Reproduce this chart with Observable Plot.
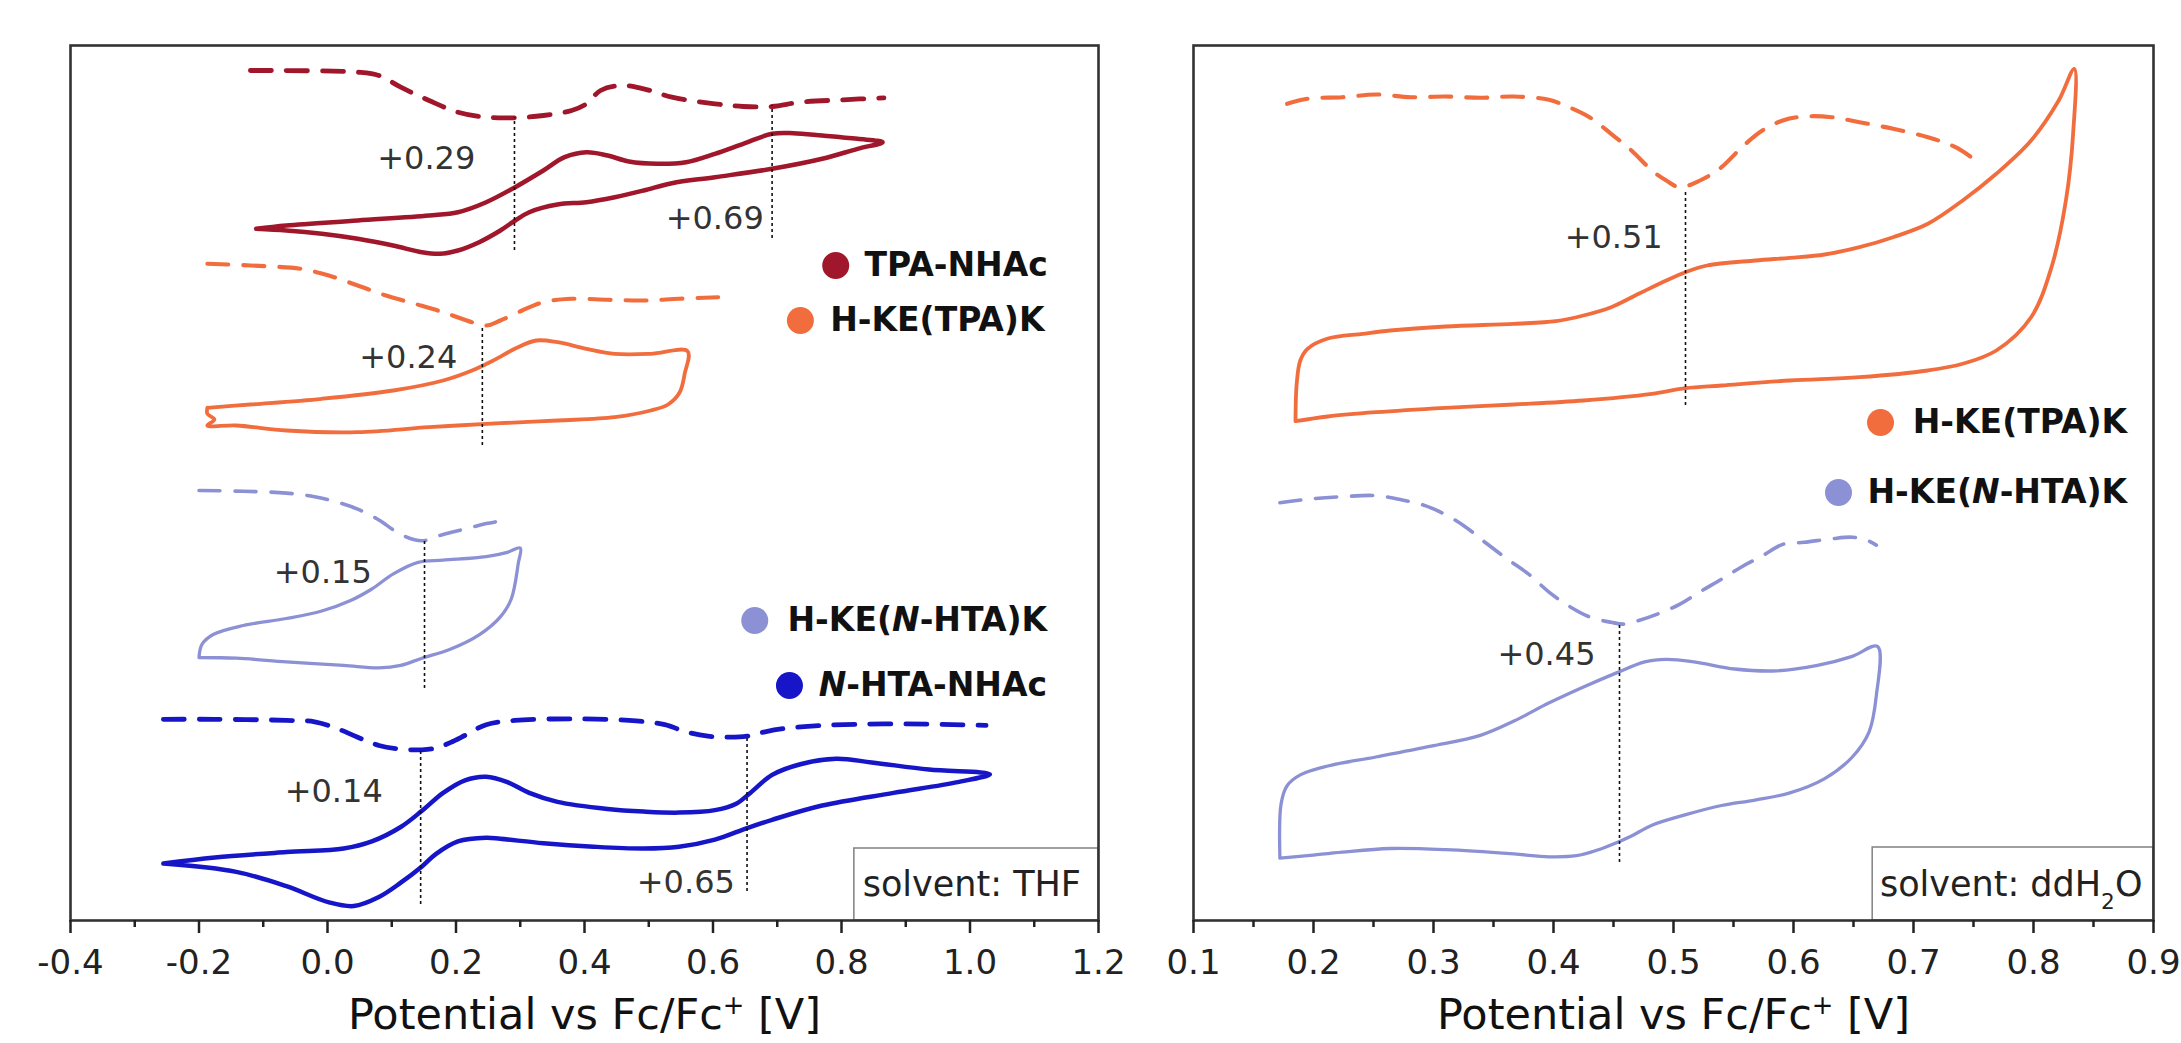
<!DOCTYPE html>
<html>
<head>
<meta charset="utf-8">
<script src="https://cdn.jsdelivr.net/npm/d3@7"></script>
<script src="https://cdn.jsdelivr.net/npm/@observablehq/plot@0.6"></script>
<style>
  html, body { margin: 0; padding: 0; background: #fff; }
  #wrap { display: flex; width: 2181px; height: 1043px; }
</style>
</head>
<body>
<div id="wrap"></div>
<script>
// ---------------- DATA (potential V, current in arbitrary offset units) ----------------
const colors = {
  tpaNHAc: "#a0162b",
  keTPA: "#f26d3d",
  keNHTA: "#8c90d4",
  nhtaNHAc: "#1616c8"
};

// Left panel (THF)
const tpaNHAcDPV = [[-0.12,84.8],[0.047,84.63],[0.08,84.3],[0.114,83.13],[0.158,81.8],[0.203,80.63],[0.247,80.13],[0.291,80.07],[0.336,80.3],[0.38,80.8],[0.403,81.47],[0.425,82.8],[0.458,83.3],[0.492,82.97],[0.536,82.13],[0.603,81.47],[0.647,81.2],[0.692,81.2],[0.736,81.63],[0.803,81.87],[0.866,82.07]];
const tpaNHAcCV = [[-0.111,68.97],[-0.064,69.3],[0.047,69.8],[0.158,70.3],[0.203,70.63],[0.247,71.63],[0.292,73.13],[0.336,74.8],[0.369,76.13],[0.403,76.63],[0.436,76.3],[0.469,75.7],[0.514,75.47],[0.558,75.63],[0.603,76.47],[0.647,77.47],[0.692,78.47],[0.725,78.53],[0.770,78.3],[0.825,77.97],[0.864,77.63],
  [0.825,76.97],[0.770,75.97],[0.692,74.97],[0.603,74.13],[0.536,73.53],[0.492,72.8],[0.447,72.13],[0.403,71.63],[0.358,71.4],[0.314,70.63],[0.292,69.8],[0.269,68.8],[0.236,67.63],[0.203,66.8],[0.175,66.47],[0.147,66.63],[0.102,67.3],[0.047,67.97],[-0.009,68.47],[-0.064,68.8],[-0.111,68.97]];

const keTPA_DPV_THF = [[-0.187,65.47],[-0.12,65.3],[-0.042,64.97],[0.002,64.3],[0.047,63.3],[0.091,62.3],[0.136,61.47],[0.18,60.63],[0.225,59.63],[0.247,59.3],[0.269,59.8],[0.303,60.8],[0.336,61.63],[0.38,61.97],[0.436,61.87],[0.492,61.8],[0.547,61.97],[0.608,62.13]];
const keTPA_CV_THF = [[-0.187,51.07],[-0.12,51.4],[-0.009,51.97],[0.1025,52.8],[0.18,53.8],[0.225,54.8],[0.258,55.8],[0.2915,56.97],[0.325,57.8],[0.358,57.63],[0.403,56.97],[0.447,56.47],[0.503,56.47],[0.5605,56.73],
  [0.556,54.5],[0.548,52.6],[0.53,51.4],[0.503,50.8],[0.447,50.13],[0.358,49.8],[0.269,49.53],[0.158,49.13],[0.047,48.63],[-0.064,48.8],[-0.142,49.3],[-0.187,49.3],[-0.176,49.9],[-0.187,50.47],[-0.187,51.07]];

const keNHTA_DPV_THF = [[-0.2,42.8],[-0.131,42.72],[-0.064,42.54],[-0.02,42.18],[0.014,41.65],[0.047,40.93],[0.08,39.85],[0.114,38.41],[0.147,37.77],[0.18,38.41],[0.214,38.95],[0.247,39.49],[0.28,39.85]];
const keNHTA_CV_THF = [[-0.2,26.1],[-0.1955,27.4],[-0.178,28.4],[-0.131,29.3],[-0.064,30.0],[-0.009,30.75],[0.036,31.8],[0.069,32.95],[0.1025,34.46],[0.141,35.61],[0.18,35.83],[0.247,36.19],[0.28,36.62],[0.3,37.05],
  [0.297,35.54],[0.286,31.95],[0.269,30.16],[0.236,28.36],[0.191,26.92],[0.147,26.03],[0.114,25.31],[0.08,25.06],[0.025,25.31],[-0.064,25.67],[-0.142,26.03],[-0.2,26.1]];

const nhtaNHAcDPV = [[-0.2555,19.92],[-0.1754,19.92],[-0.064,19.81],[-0.02,19.67],[0.014,19.02],[0.047,18.13],[0.08,17.3],[0.114,16.94],[0.147,16.87],[0.169,17.05],[0.191,17.59],[0.214,18.31],[0.247,19.38],[0.2915,19.81],[0.38,19.96],[0.469,19.81],[0.525,19.38],[0.558,18.67],[0.592,18.23],[0.625,18.13],[0.653,18.23],[0.681,18.67],[0.714,19.02],[0.77,19.31],[0.881,19.46],[1.025,19.31]];
const nhtaNHAcCV = [[-0.2555,5.49],[-0.1754,6.1],[-0.064,6.64],[0.025,7.0],[0.069,7.71],[0.114,9.15],[0.147,10.77],[0.18,12.56],[0.214,13.82],[0.247,14.18],[0.28,13.64],[0.314,12.56],[0.358,11.66],[0.436,10.95],[0.492,10.69],[0.547,10.59],[0.603,10.84],[0.636,11.48],[0.658,12.56],[0.692,14.36],[0.736,15.43],[0.792,15.97],[0.847,15.61],[0.936,14.89],[1.031,14.43],
  [0.981,13.64],[0.881,12.56],[0.77,11.3],[0.692,9.87],[0.653,9.04],[0.603,7.89],[0.547,7.18],[0.492,7.0],[0.414,7.18],[0.336,7.53],[0.269,7.97],[0.247,8.07],[0.203,7.71],[0.169,6.46],[0.147,5.2],[0.114,3.58],[0.08,2.15],[0.041,1.25],[0.0025,1.61],[-0.064,3.23],[-0.142,4.66],[-0.2555,5.49]];

// Right panel (ddH2O)
const keTPA_DPV_H2O = [[0.178,81.47],[0.195,81.97],[0.224,82.13],[0.252,82.4],[0.281,82.13],[0.31,82.2],[0.339,82.07],[0.367,82.2],[0.396,81.87],[0.413,81.13],[0.43,80.13],[0.448,78.47],[0.465,76.8],[0.482,74.8],[0.494,73.8],[0.505,73.13],[0.522,73.8],[0.54,75.13],[0.557,77.13],[0.574,78.8],[0.591,79.8],[0.609,80.2],[0.632,80.13],[0.655,79.63],[0.683,78.97],[0.712,78.13],[0.735,77.13],[0.752,75.8]];
const keTPA_CV_H2O = [[0.185,49.73],[0.186,53.47],[0.189,55.8],[0.195,56.97],[0.212,58.0],[0.241,58.47],[0.264,58.8],[0.31,59.2],[0.367,59.47],[0.402,59.73],[0.425,60.3],[0.448,61.13],[0.471,62.47],[0.494,63.8],[0.51,64.63],[0.528,65.3],[0.568,65.8],[0.597,66.07],[0.626,66.4],[0.655,67.13],[0.683,68.13],[0.712,69.47],[0.741,71.8],[0.769,74.47],[0.798,77.8],[0.821,81.8],[0.834,84.97],
  [0.833,78.47],[0.827,71.8],[0.815,65.13],[0.798,60.13],[0.769,56.8],[0.741,55.47],[0.712,54.8],[0.655,54.13],[0.597,53.8],[0.54,53.3],[0.51,53.03],[0.482,52.47],[0.425,51.8],[0.367,51.4],[0.31,51.07],[0.252,50.63],[0.212,50.2],[0.185,49.73]];

const keNHTA_DPV_H2O = [[0.172,41.57],[0.195,41.93],[0.224,42.18],[0.252,42.29],[0.275,41.83],[0.293,41.29],[0.31,40.39],[0.327,39.13],[0.344,37.52],[0.362,35.9],[0.379,34.46],[0.396,32.67],[0.413,31.23],[0.43,30.16],[0.448,29.62],[0.459,29.44],[0.471,29.8],[0.488,30.51],[0.505,31.41],[0.522,32.67],[0.54,33.93],[0.557,35.18],[0.574,36.26],[0.591,37.41],[0.609,37.62],[0.632,37.98],[0.649,38.13],[0.66,37.88],[0.669,37.34]];
const keNHTA_CV_H2O = [[0.172,6.1],[0.173,11.48],[0.178,13.28],[0.189,14.36],[0.212,15.25],[0.252,16.15],[0.298,17.23],[0.339,18.31],[0.367,19.74],[0.396,21.54],[0.425,23.15],[0.453,24.59],[0.476,25.67],[0.494,25.92],[0.517,25.67],[0.551,24.95],[0.586,24.77],[0.62,25.31],[0.649,26.21],[0.67,27.21],
  [0.669,22.26],[0.663,18.67],[0.649,16.15],[0.626,13.99],[0.597,12.56],[0.568,11.84],[0.54,11.3],[0.511,10.41],[0.482,9.33],[0.465,8.25],[0.455,7.71],[0.436,6.82],[0.419,6.28],[0.396,6.17],[0.367,6.46],[0.31,6.89],[0.264,7.0],[0.224,6.64],[0.195,6.28],[0.172,6.03]];

// Peak potentials (dotted markers) with their vertical extent
const peaksTHF = [
  {E: 0.291, lo: 66.8, hi: 80.1, label: "+0.29", lx: 0.230, ly: 76.0},
  {E: 0.692, lo: 68.0, hi: 81.3, label: "+0.69", lx: 0.679, ly: 70.0},
  {E: 0.241, lo: 47.3, hi: 59.3, label: "+0.24", lx: 0.202, ly: 56.1},
  {E: 0.151, lo: 23.0, hi: 37.8, label: "+0.15", lx: 0.069, ly: 34.6},
  {E: 0.145, lo: 1.4, hi: 16.9, label: "+0.14", lx: 0.086, ly: 12.7},
  {E: 0.653, lo: 2.7, hi: 18.1, label: "+0.65", lx: 0.634, ly: 3.6}
];
const peaksH2O = [
  {E: 0.510, lo: 51.3, hi: 72.8, label: "+0.51", lx: 0.491, ly: 68.1},
  {E: 0.455, lo: 5.6, hi: 29.4, label: "+0.45", lx: 0.435, ly: 26.4}
];

const legendTHF = [
  {name: "TPA-NHAc", key: "tpaNHAc", cx: 0.791, tx: 1.121, y: 65.3},
  {name: "H-KE(TPA)K", key: "keTPA", cx: 0.736, tx: 1.116, y: 59.8},
  {name: "H-KE(*N*-HTA)K", key: "keNHTA", cx: 0.665, tx: 1.120, y: 29.8},
  {name: "*N*-HTA-NHAc", key: "nhtaNHAc", cx: 0.719, tx: 1.120, y: 23.3}
];
const legendH2O = [
  {name: "H-KE(TPA)K", key: "keTPA", cx: 0.6725, tx: 0.878, y: 49.6},
  {name: "H-KE(*N*-HTA)K", key: "keNHTA", cx: 0.6375, tx: 0.878, y: 42.6}
];

const ticksTHF = [-0.4, -0.2, 0.0, 0.2, 0.4, 0.6, 0.8, 1.0, 1.2];
const minorTHF = [-0.3, -0.1, 0.1, 0.3, 0.5, 0.7, 0.9, 1.1];
const ticksH2O = [0.1, 0.2, 0.3, 0.4, 0.5, 0.6, 0.7, 0.8, 0.9];
const minorH2O = [0.15, 0.25, 0.35, 0.45, 0.55, 0.65, 0.75, 0.85];

const xTitle = "Potential vs Fc/Fc^{+} [V]";

// ---------------- RENDERING ----------------
const FONT = "'DejaVu Sans', 'Liberation Sans', Arial, sans-serif";
const widths = {tpaNHAc: 4.5, keTPA: 3.8, keNHTA: 3.3, nhtaNHAc: 4.5};

function richify(svg) {
  d3.select(svg).selectAll("text").each(function () {
    const s = this.textContent;
    if (!/[*^_]/.test(s)) return;
    const re = /\*([^*]+)\*|\^\{([^}]*)\}|_\{([^}]*)\}|([^*^_]+)/g;
    const parts = [];
    let m;
    while ((m = re.exec(s))) parts.push(m);
    const sel = d3.select(this);
    sel.text(null);
    for (const p of parts) {
      if (p[1] != null) sel.append("tspan").attr("font-style", "italic").text(p[1]);
      else if (p[2] != null) sel.append("tspan").attr("baseline-shift", "super").attr("font-size", "60%").text(p[2]);
      else if (p[3] != null) sel.append("tspan").attr("baseline-shift", "sub").attr("font-size", "62%").text(p[3]);
      else sel.append("tspan").text(p[4]);
    }
  });
  return svg;
}

function panel({width, marginLeft, marginRight, domain, ticks, minor, curves, peaks, legend, box, solvent}) {
  const lineMarks = curves.map(c => Plot.line(c.data, {
    x: d => d[0], y: d => d[1], stroke: colors[c.key],
    strokeWidth: c.dash ? widths[c.key] + 0.3 : widths[c.key],
    strokeDasharray: c.dash ? "21,15" : null,
    curve: "catmull-rom", strokeLinejoin: "round"
  }));
  const svg = Plot.plot({
    width, height: 1043,
    marginTop: 45, marginBottom: 123, marginLeft, marginRight,
    x: {domain},
    y: {domain: [-0.2, 87.3], axis: null},
    style: {fontFamily: FONT, background: "white", overflow: "visible"},
    marks: [
      Plot.rect([box], {x1: "x1", x2: "x2", y1: "y1", y2: "y2", fill: "white", stroke: "#888", strokeWidth: 1.6}),
      Plot.text([solvent], {x: "x", y: "y", text: "text", textAnchor: "start", fontSize: 35, fill: "#222"}),
      ...lineMarks,
      Plot.ruleX(peaks, {x: "E", y1: "lo", y2: "hi", stroke: "#111", strokeWidth: 1.6, strokeDasharray: "3,3"}),
      Plot.text(peaks, {x: "lx", y: "ly", text: "label", textAnchor: "end", fontSize: 32, fill: "#333"}),
      Plot.dot(legend, {x: "cx", y: "y", r: 13.5, fill: d => colors[d.key], stroke: null}),
      Plot.text(legend, {x: "tx", y: "y", text: "name", textAnchor: "end", fontSize: 33, fontWeight: "bold", fill: "#111"}),
      Plot.frame({stroke: "#333", strokeWidth: 2.6}),
      Plot.axisX(ticks, {tickSize: 13, tickPadding: 16, fontSize: 34, tickFormat: d => d.toFixed(1), color: "#222", strokeWidth: 2.5, label: null}),
      Plot.axisX(minor, {tickSize: 7, tickFormat: () => "", color: "#222", strokeWidth: 2.5, label: null}),
      Plot.text([xTitle], {frameAnchor: "bottom", dy: 95, fontSize: 43, fill: "#111", lineAnchor: "middle"})
    ]
  });
  return richify(svg);
}

const wrap = document.getElementById("wrap");
wrap.append(panel({
  width: 1140, marginLeft: 70, marginRight: 42,
  domain: [-0.4, 1.2], ticks: ticksTHF, minor: minorTHF,
  curves: [
    {data: tpaNHAcDPV, key: "tpaNHAc", dash: true},
    {data: tpaNHAcCV, key: "tpaNHAc"},
    {data: keTPA_DPV_THF, key: "keTPA", dash: true},
    {data: keTPA_CV_THF, key: "keTPA"},
    {data: keNHTA_DPV_THF, key: "keNHTA", dash: true},
    {data: keNHTA_CV_THF, key: "keNHTA"},
    {data: nhtaNHAcDPV, key: "nhtaNHAc", dash: true},
    {data: nhtaNHAcCV, key: "nhtaNHAc"}
  ],
  peaks: peaksTHF, legend: legendTHF,
  box: {x1: 0.82, x2: 1.2, y1: -0.2, y2: 7.0},
  solvent: {x: 0.833, y: 3.4, text: "solvent: THF"}
}));
wrap.append(panel({
  width: 1041, marginLeft: 53, marginRight: 28,
  domain: [0.1, 0.9], ticks: ticksH2O, minor: minorH2O,
  curves: [
    {data: keTPA_DPV_H2O, key: "keTPA", dash: true},
    {data: keTPA_CV_H2O, key: "keTPA"},
    {data: keNHTA_DPV_H2O, key: "keNHTA", dash: true},
    {data: keNHTA_CV_H2O, key: "keNHTA"}
  ],
  peaks: peaksH2O, legend: legendH2O,
  box: {x1: 0.666, x2: 0.9, y1: -0.2, y2: 7.1},
  solvent: {x: 0.672, y: 3.4, text: "solvent: ddH_{2}O"}
}));
</script>
</body>
</html>
